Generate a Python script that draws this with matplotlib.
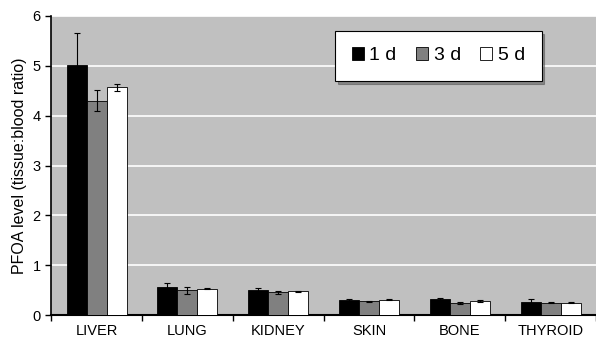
import numpy as np
import matplotlib.pyplot as plt

plt.rcParams['font.family'] = ['Liberation Sans', 'DejaVu Sans']

tissues = ['LIVER', 'LUNG', 'KIDNEY', 'SKIN', 'BONE', 'THYROID']
d1 = [5.02, 0.57, 0.50, 0.30, 0.33, 0.27]
d1_err = [0.63, 0.07, 0.04, 0.03, 0.02, 0.05]
d3 = [4.30, 0.50, 0.46, 0.28, 0.25, 0.25]
d3_err = [0.21, 0.07, 0.03, 0.01, 0.02, 0.01]
d5 = [4.57, 0.53, 0.48, 0.31, 0.28, 0.25]
d5_err = [0.07, 0.01, 0.01, 0.01, 0.02, 0.01]

fig = plt.figure(figsize=(5.96, 3.4), dpi=100)
ax = fig.add_axes([0.086, 0.073, 0.914, 0.88])
ax.set_facecolor('#c0c0c0')

x = np.arange(len(tissues))
w = 0.22
ekw = dict(elinewidth=0.8, capsize=2, capthick=0.8, ecolor='black')
ax.bar(x - w, d1, w, yerr=d1_err, color='black', edgecolor='black', linewidth=0.6, label='1 d', error_kw=ekw, zorder=3)
ax.bar(x, d3, w, yerr=d3_err, color='#808080', edgecolor='black', linewidth=0.6, label='3 d', error_kw=ekw, zorder=3)
ax.bar(x + w, d5, w, yerr=d5_err, color='white', edgecolor='black', linewidth=0.6, label='5 d', error_kw=ekw, zorder=3)

ax.set_xlim(-0.5, len(tissues) - 0.5)
ax.set_ylim(0, 6)
ax.set_yticks(range(7))
ax.yaxis.grid(True, color='white', linewidth=1.2, zorder=0)
ax.set_axisbelow(True)
ax.set_xticks(x)
ax.set_xticklabels(tissues)
ax.set_xticks(np.arange(len(tissues) + 1) - 0.5, minor=True)
ax.tick_params(axis='x', which='major', length=0, pad=6, labelsize=10.5)
ax.tick_params(axis='x', which='minor', length=4, direction='out', width=1)
ax.tick_params(axis='y', length=4, width=1, labelsize=10.5)
for s in ['top', 'right']:
    ax.spines[s].set_visible(False)
ax.spines['left'].set_linewidth(1.2)
ax.spines['bottom'].set_linewidth(1.5)
ax.set_ylabel('PFOA level (tissue:blood ratio)', fontsize=11.5)

leg = ax.legend(loc='upper right', bbox_to_anchor=(0.9, 0.95), borderaxespad=0, ncol=3, fontsize=14,
                frameon=True, fancybox=False, shadow=True, edgecolor='black',
                handlelength=0.6, handleheight=0.6, handletextpad=0.3, columnspacing=1.0,
                borderpad=0.85, framealpha=1)
leg.get_frame().set_linewidth(0.8)

fig.savefig('out.png', dpi=100)
